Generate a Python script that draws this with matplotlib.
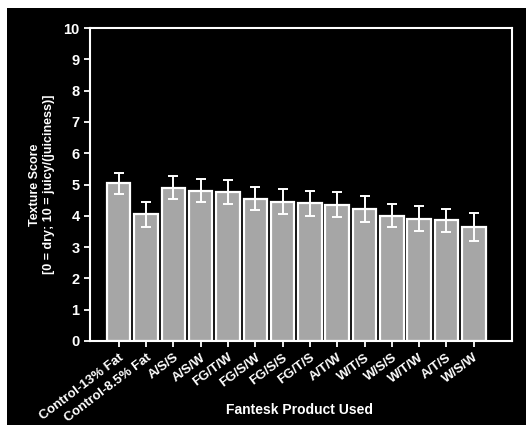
import numpy as np
import matplotlib
matplotlib.use("Agg")
import matplotlib.pyplot as plt
from matplotlib.patches import Rectangle

# data
products = ["Control-13% Fat", "Control-8.5% Fat", "A/S/S", "A/S/W", "FG/T/W",
            "FG/S/W", "FG/S/S", "FG/T/S", "A/T/W", "W/T/S", "W/S/S", "W/T/W",
            "A/T/S", "W/S/W"]
scores = [5.04, 4.05, 4.9, 4.8, 4.75, 4.55, 4.45, 4.4, 4.35, 4.22, 4.0, 3.9, 3.85, 3.65]
errors = [0.33, 0.4, 0.37, 0.37, 0.38, 0.37, 0.4, 0.4, 0.4, 0.42, 0.37, 0.4, 0.38, 0.44]

plt.rcParams['font.family'] = ['Liberation Sans Narrow', 'Liberation Sans', 'DejaVu Sans']
plt.rcParams['font.weight'] = 'bold'

fig = plt.figure(figsize=(5.26, 4.25), dpi=100, facecolor='white')
# black photo background with a thin white margin top/left
fig.patches.append(Rectangle((7 / 526, 0), 1, 1 - 8 / 425, transform=fig.transFigure,
                             facecolor='black', edgecolor='none', zorder=-5))

ax = fig.add_axes([90 / 526, 1 - 341 / 425, (512 - 90) / 526, (341 - 28) / 425])
ax.set_zorder(2)
ax.set_facecolor('black')

x = np.arange(len(products))
ax.bar(x, scores, width=0.86, color='#a6a6a6', edgecolor='white', linewidth=1.6,
       yerr=errors, error_kw=dict(ecolor='white', elinewidth=1.4, capsize=3.5, capthick=1.4))

ax.set_xlim(-1.05, 14.4)
ax.set_ylim(0, 10)
ax.set_yticks(range(0, 11))
ax.set_xticks(x)
ax.set_xticklabels(products, rotation=37, ha='right', rotation_mode='anchor',
                   fontsize=9.5, color='white', fontweight='bold')
ax.tick_params(axis='y', colors='white', labelsize=10.5, length=4, width=1.3)
ax.tick_params(axis='x', colors='white', length=4, width=1.3)
for lbl in ax.get_yticklabels():
    lbl.set_fontweight('bold')
for sp in ax.spines.values():
    sp.set_color('white')
    sp.set_linewidth(1.5)

ax.set_ylabel("Texture Score\n[0 = dry; 10 = juicy/(juiciness)]", color='white',
              fontsize=9, fontweight='bold', labelpad=6)
fig.text(300 / 526, 1 - 410 / 425, "Fantesk Product Used", color='white',
         fontsize=10, fontweight='bold', ha='center', va='center', zorder=3)

fig.savefig("out.png", dpi=100, facecolor=fig.get_facecolor())
